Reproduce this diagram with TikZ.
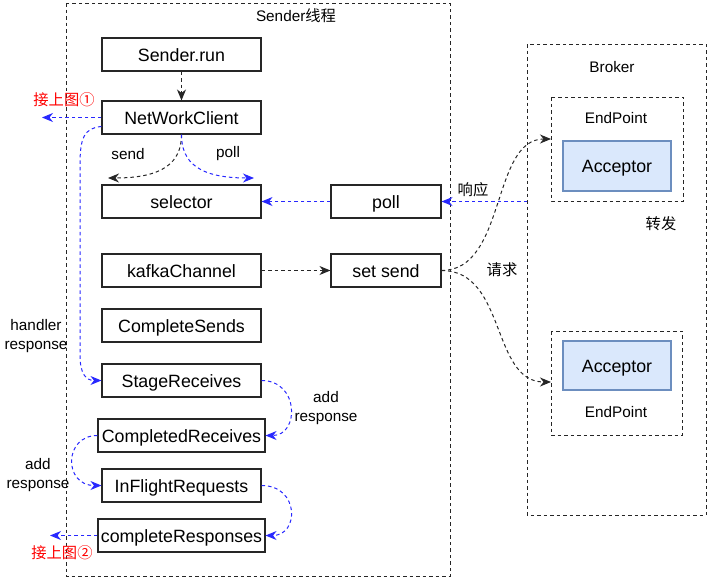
\documentclass[tikz,border=0pt]{standalone}
\usepackage{fontspec}
\setmainfont{Liberation Sans}
\newfontfamily\cjk{Noto Sans CJK SC}
\usetikzlibrary{arrows.meta}
\definecolor{lblue}{RGB}{40,40,255}
\definecolor{accfill}{HTML}{DAE8FC}
\definecolor{accdraw}{HTML}{6C8EBF}
\tikzset{
  box/.style={draw=black!85,line width=1.1pt,minimum width=159pt,minimum height=33pt,inner sep=0pt,text height=15pt,text depth=2pt,font=\fontsize{17.8}{20}\selectfont},
  smallbox/.style={box,minimum width=110pt},
  frame/.style={draw=black!85,line width=1pt,dash pattern=on 3.5pt off 3pt},
  acc/.style={draw=accdraw,fill=accfill,line width=1.1pt},
  acctext/.style={inner sep=0pt,text height=15pt,text depth=2pt,font=\fontsize{17.8}{20}\selectfont},
  lbl/.style={font=\fontsize{15.3}{18.5}\selectfont,align=center,inner sep=0pt},
  red lbl/.style={lbl,text=red},
  tip/.style={-{Stealth[length=11pt,width=9pt,inset=3.5pt]}},
  blk/.style={tip,draw=black!85,line width=1pt,dash pattern=on 3.5pt off 3pt},
  blu/.style={tip,draw=lblue,line width=1pt,dash pattern=on 3.5pt off 3pt},
}
\begin{document}
\begin{tikzpicture}[x=1pt,y=-1pt]
\useasboundingbox (0,0) rectangle (713,582);
% frames
\draw[frame] (66,3) rectangle (450,576);
\node[lbl] (sendertitle) at (296,16) {Sender{\cjk 线程}};
\draw[frame] (527,44) rectangle (706,515);
\node[lbl] (brokertitle) at (612,67) {Broker};
\draw[frame] (551,97) rectangle (683,201);
\draw[frame] (551,331) rectangle (682,435);
\coordinate (ep1) at (551,139);
\coordinate (ep2) at (551,382);
\coordinate (brokerin) at (527,201.5);
\draw[acc] (563,141) rectangle (671,191);
\node[acctext] (acc1) at (617,166) {Acceptor};
\draw[acc] (563,341) rectangle (671,390);
\node[acctext] (acc2) at (617,366) {Acceptor};
\node[lbl] (ep1t) at (616,118) {EndPoint};
\node[lbl] (ep2t) at (616,412) {EndPoint};
\node[lbl] (zf) at (661,224) {\cjk 转发};
% boxes
\node[box] (senderrun) at (181.5,54.5) {Sender.run};
\node[box] (netclient) at (181.5,117.5) {NetWorkClient};
\node[box] (selector) at (181.5,201.5) {selector};
\node[box] (kafka) at (181.5,270.5) {kafkaChannel};
\node[box] (csends) at (181.5,325.5) {CompleteSends};
\node[box] (stage) at (181.5,380.5) {StageReceives};
\node[box,minimum width=167pt] (creceives) at (181.5,435.5) {CompletedReceives};
\node[box] (inflight) at (181.5,485.5) {InFlightRequests};
\node[box,minimum width=167pt] (cresp) at (181.5,535.5) {completeResponses};
\node[smallbox] (poll) at (386,201.5) {poll};
\node[smallbox] (setsend) at (386,270.5) {set send};
% connectors
\draw[blk] (senderrun) -- (netclient);
\coordinate (out1) at (42,117.5);
\draw[blu] (netclient.west) -- (out1);
\node[red lbl] (jie1) at (64,100) {\cjk 接上图①};
\coordinate (sendend) at (108,178);
\coordinate (pollend) at (254,178);
\draw[blk] (netclient.south) .. controls +(0,28) and +(55,0) .. (sendend);
\draw[blu] (netclient.south) .. controls +(0,28) and +(-55,0) .. (pollend);
\node[lbl] (sendl) at (128,154) {send};
\node[lbl] (polll) at (228,154) {poll};
\draw[blu] ([yshift=-9pt]netclient.west) .. controls (84,128) and (80,138) .. (80,165) -- (80,355) .. controls (80,374) and (86,380.5) .. (stage.west);
\node[lbl] (hr) at (36,336) {handler\\response};
\draw[blu] (poll) -- (selector);
\draw[blu] (brokerin) -- (poll);
\node[lbl] (xy) at (473,190) {\cjk 响应};
\draw[blk] (kafka) -- (setsend);
\draw[blk] (setsend.east) .. controls +(65,0) and +(-60,0) .. (ep1);
\draw[blk] (setsend.east) .. controls +(65,0) and +(-60,0) .. (ep2);
\node[lbl] (qq) at (502,270) {\cjk 请求};
\draw[blu] (stage.east) .. controls +(38,0) and +(34,0) .. (creceives.east);
\node[lbl] (ar1) at (326,408) {add\\response};
\draw[blu] (creceives.west) .. controls +(-34,0) and +(-38,0) .. (inflight.west);
\node[lbl] (ar2) at (38,475) {add\\response};
\draw[blu] (inflight.east) .. controls +(38,0) and +(34,0) .. (cresp.east);
\coordinate (out2) at (50,535.5);
\draw[blu] (cresp.west) -- (out2);
\node[red lbl] (jie2) at (62,553) {\cjk 接上图②};
\end{tikzpicture}
\end{document}
